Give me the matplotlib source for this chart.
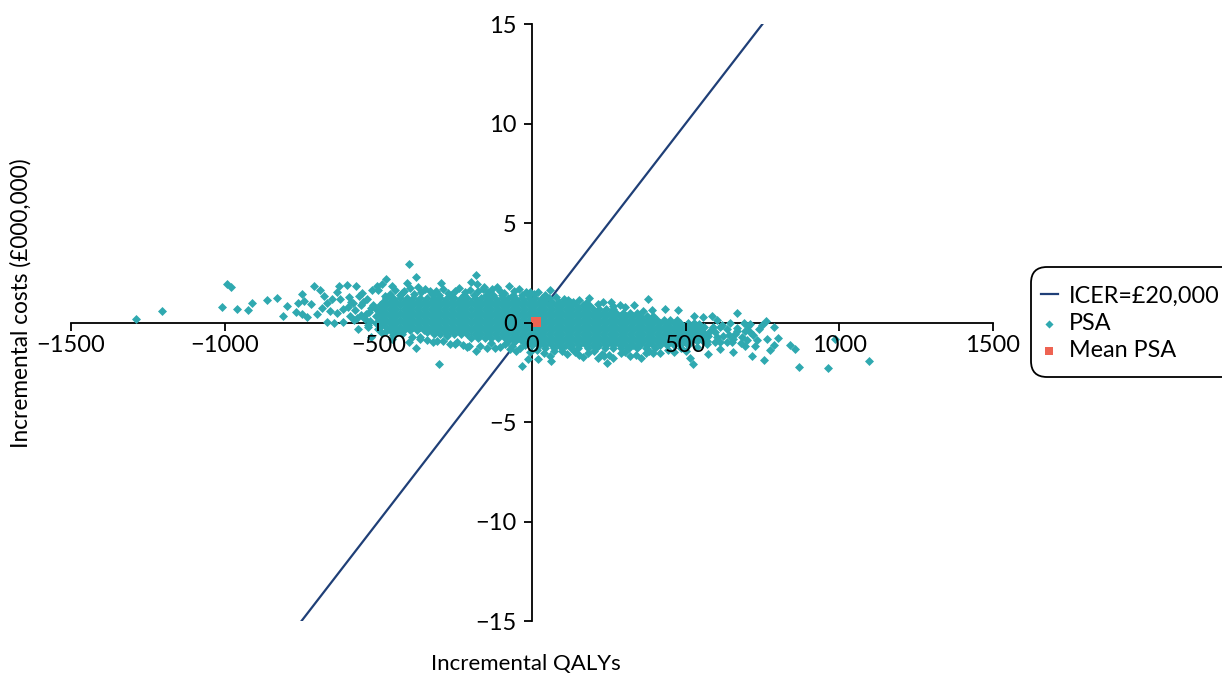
import matplotlib
matplotlib.use('Agg')
import matplotlib.pyplot as plt
from matplotlib.patches import FancyBboxPatch

plt.rcParams['font.family'] = ['Lato', 'Open Sans', 'DejaVu Sans']

# tick labels
x_ticks = [-1500, -1000, -500, 0, 500, 1000, 1500]
y_ticks = [-15, -10, -5, 0, 5, 10, 15]

# ICER threshold line
icer_x = [-750, 750]
icer_y = [-15, 15]

# mean of the PSA runs
mean_x = [12]
mean_y = [0.05]

# PSA runs, scattered ones read point by point
outer_x = [-1290, -1203, -993, -980, -1010, -961, -925, -912, -863, -831, -798, -809, -769, -763, -747, -741, -749,
           -733, -720, -709, -690, -676, -668, -698, -684, -668, -644, -616, -627, -603, -572, -633, -652, -625, -597,
           -581, -657, -635, -614, -592, -554, -538, -565, -532, -500, -525, -475, -456, -440, -399, -377, -364, -304,
           -31, -399, -377, -475, -489, -505, -454, -408, -522, -500, -370, -296, -183, -198, -180, -156, -113, -75,
           -332, -424, -250, -310, -278, -182, -204, -147, -120, -88, -64, -343, -14, 21, 59, 62, 97, 165, 216, 243,
           234, 265, 319, 354, 395, 514, 523, 574, 612, 655, 715, 756, 773, 786, 802, 766, 840, 856, 870, 964, 986,
           1095, 762, 748, 786, 710, 690, 666, 645, 601, 585, 556, 527, 476, 433, 379, 256, 286, 187, 118, 59, -6, 21,
           579, 612, 634, 666, 710, 731, 726, 693, 655, 623, 596, 569, 612, 682, 634, 699, 661, 596, 574, 693,
           -575, -558, -541, -523, -588, -570, -549, -531, -517, -562, -544, -526, -600, -578, -556, -535]
outer_y = [0.17, 0.59, 1.93, 1.76, 0.79, 0.67, 0.64, 0.99, 1.12, 1.22, 0.84, 0.34, 0.55, 0.97, 1.42, 1.09, 0.42,
           0.30, 0.95, 1.84, 1.64, 1.34, 1.0, 0.45, 0.75, 0.05, -0.03, 0.03, 1.84, 1.89, 1.84, 1.54, 1.17, 1.17, 1.26,
           1.0, 0.59, 0.5, 0.67, 0.34, 1.5, 1.17, -0.34, -0.25, -0.34, -0.75, -0.45, -0.84, -0.5, -1.0, -1.29, -0.75, -2.09,
           -2.18, 2.93, 2.31, 2.21, 1.93, 1.84, 1.84, 2.01, 1.64, 1.64, 1.76, 2.01, 2.38, 2.06, 1.93, 1.79, 1.79, 1.84,
           1.59, 1.5, -1.09, -0.92, -0.67, -1.42, -1.17, -1.29, -1.26, -1.09, -1.17, -0.5, -1.84, -1.84, -1.67, -1.93, -1.42, -1.73, -1.79, -2.06,
           -1.67, -1.76, -1.67, -1.76, -1.51, -1.79, -2.09, -1.59, -1.34, -1.46, -1.67, -1.89, -1.39, -1.12, -0.79, -0.84, -1.14, -1.31, -2.23, -2.28, -0.84,
           -1.94, 0.08, -0.13, -0.25, -0.08, 0.0, 0.5, 0.0, 0.12, 0.34, 0.28, 0.34, 0.62, 0.67, 1.17, 1.04, 0.87, 1.22, 1.12, 1.62, 1.54, 1.51,
           -0.42, -0.25, -0.34, -0.42, -0.5, -0.89, -1.17, -1.17, -0.84, -0.67, -1.0, -1.09, -1.0, -0.75, -1.0, -0.89, -0.59, -0.5, -0.67, -0.42,
           0.62, 0.88, 0.45, 0.72, 1.02, 0.24, 1.05, 0.52, 0.86, 1.32, 0.2, 0.1, 0.78, 0.14, 0.36, -0.12]

# fringe above and below the solid part of the cloud
fringe_x = [-478, -462, -447, -431, -416, -398, -384, -361, -349, -327, -311, -289, -274, -251, -236, -219, -201, -176,
            -161, -142, -131, -104, -92, -58, -43, -21, 8, 41, 78, 104, 133, 152, 176, 214, 231, 262, 304, 331, 362, 392,
            -488, -452, -423, -391, -366, -341, -322, -291, -268, -243, -226, -211, -169, -135, -103, -71, -52, -39,
            -8, 16, 38, 71, 113, 141, 153, 182, 202, 228, 251, 288, 302, 338, 371, 382, 416, 441, 463, 486, 502, 537,
            545, 562, 570, 588, 603, 619, 642, 651, 668, 679, 704, 719, 738]
fringe_y = [1.31, 1.44, 1.62, 1.38, 1.56, 1.71, 1.42, 1.52, 1.68, 1.41, 1.57, 1.66, 1.48, 1.6, 1.72, 1.54, 1.63, 1.58,
            1.7, 1.52, 1.66, 1.6, 1.49, 1.57, 1.68, 1.52, 1.41, 1.37, 1.26, 1.18, 1.05, 1.14, 0.98, 0.92, 1.01, 0.83, 0.76, 0.88, 0.58, 0.62,
            -0.52, -0.64, -0.58, -0.72, -0.81, -0.88, -0.97, -0.92, -1.08, -0.98, -1.12, -1.21, -1.18, -1.05, -1.24, -1.32, -1.41, -1.28,
            -1.47, -1.38, -1.52, -1.44, -1.56, -1.49, -1.62, -1.51, -1.43, -1.58, -1.64, -1.53, -1.47, -1.62, -1.55, -1.41, -1.53, -1.38, -1.47, -1.29, -1.42, -1.24,
            -0.08, -0.58, -0.95, -0.22, -0.72, -0.12, -0.64, -0.98, -0.28, -1.02, -0.18, -0.62, -0.32]

# PSA runs in the solid part of the cloud, estimated band by band
band_y = [1.40, 1.22, 1.04, 0.86, 0.68, 0.50, 0.32, 0.14, -0.04, -0.22, -0.40, -0.58, -0.76, -0.94, -1.12, -1.30]
band_x = [
    [-301, -262, -221, -188, -150, -128, -96, -61, -33, -9],
    [-474, -451, -430, -407, -386, -363, -342, -319, -298, -275, -254, -231, -210, -187, -166, -143, -122, -99, -78, -55, -34, -11, 10, 33, 54],
    [-485, -462, -441, -418, -397, -374, -353, -330, -309, -286, -265, -242, -221, -198, -177, -154, -133, -110, -89, -66, -45, -22, -1, 22, 43, 66, 87, 110, 124],
    [-495, -474, -451, -430, -407, -386, -363, -342, -319, -298, -275, -254, -231, -210, -187, -166, -143, -122, -99, -78, -55, -34, -11, 10, 33, 54, 77, 98, 121, 142, 165, 186],
    [-506, -485, -462, -441, -418, -397, -374, -353, -330, -309, -286, -265, -242, -221, -198, -177, -154, -133, -110, -89, -66, -45, -22, -1, 22, 43, 66, 87, 110, 131, 154, 175, 198, 219, 242, 263],
    [-495, -474, -451, -430, -407, -386, -363, -342, -319, -298, -275, -254, -231, -210, -187, -166, -143, -122, -99, -78, -55, -34, -11, 10, 33, 54, 77, 98, 121, 142, 165, 186, 209, 230, 253, 274, 297, 318, 341],
    [-506, -485, -462, -441, -418, -397, -374, -353, -330, -309, -286, -265, -242, -221, -198, -177, -154, -133, -110, -89, -66, -45, -22, -1, 22, 43, 66, 87, 110, 131, 154, 175, 198, 219, 242, 263, 286, 307, 330, 351, 374, 395],
    [-495, -474, -451, -430, -407, -386, -363, -342, -319, -298, -275, -254, -231, -210, -187, -166, -143, -122, -99, -78, -55, -34, -11, 10, 33, 54, 77, 98, 121, 142, 165, 186, 209, 230, 253, 274, 297, 318, 341, 362, 385, 406, 429, 450, 473],
    [-506, -485, -462, -441, -418, -397, -374, -353, -330, -309, -286, -265, -242, -221, -198, -177, -154, -133, -110, -89, -66, -45, -22, -1, 22, 43, 66, 87, 110, 131, 154, 175, 198, 219, 242, 263, 286, 307, 330, 351, 374, 395, 418, 439, 462, 483, 506, 527],
    [-495, -474, -451, -430, -407, -386, -363, -342, -319, -298, -275, -254, -231, -210, -187, -166, -143, -122, -99, -78, -55, -34, -11, 10, 33, 54, 77, 98, 121, 142, 165, 186, 209, 230, 253, 274, 297, 318, 341, 362, 385, 406, 429, 450, 473, 494, 517, 538, 561],
    [-462, -441, -418, -397, -374, -353, -330, -309, -286, -265, -242, -221, -198, -177, -154, -133, -110, -89, -66, -45, -22, -1, 22, 43, 66, 87, 110, 131, 154, 175, 198, 219, 242, 263, 286, 307, 330, 351, 374, 395, 418, 439, 462, 483, 506, 527, 550],
    [-319, -298, -275, -254, -231, -210, -187, -166, -143, -122, -99, -78, -55, -34, -11, 10, 33, 54, 77, 98, 121, 142, 165, 186, 209, 230, 253, 274, 297, 318, 341, 362, 385, 406, 429, 450, 473, 494, 517, 538, 561],
    [-198, -177, -154, -133, -110, -89, -66, -45, -22, -1, 22, 43, 66, 87, 110, 131, 154, 175, 198, 219, 242, 263, 286, 307, 330, 351, 374, 395, 418, 439, 462, 483, 506, 527, 550],
    [-78, -55, -34, -11, 10, 33, 54, 77, 98, 121, 142, 165, 186, 209, 230, 253, 274, 297, 318, 341, 362, 385, 406, 429, 450, 473, 494, 517, 538, 555],
    [-22, -1, 22, 43, 66, 87, 110, 131, 154, 175, 198, 219, 242, 263, 286, 307, 330, 351, 374, 395, 418, 439, 462, 483, 506],
    [42, 71, 96, 128, 151, 183, 207, 238, 262, 291, 317, 343, 372, 399],
]

psa_x = list(outer_x) + list(fringe_x)
psa_y = list(outer_y) + list(fringe_y)
for y, xs in zip(band_y, band_x):
    psa_x += xs
    psa_y += [y] * len(xs)

fig = plt.figure(figsize=(12.22, 6.73), dpi=100)
ax = fig.add_axes([71 / 1222, 1 - 621 / 673, 922 / 1222, 597 / 673])

ax.plot(icer_x, icer_y, color='#1f3f77', lw=1.6, zorder=1.5, label='ICER=£20,000')
ax.scatter(psa_x, psa_y, marker='D', s=21, color='#2fa9b0', linewidths=0, zorder=2, label='PSA')
ax.scatter(mean_x, mean_y, marker='s', s=42, color='#ee6352', linewidths=0, zorder=2.2, label='Mean PSA')

ax.set_xlim(-1500, 1500)
ax.set_ylim(-15, 15)

# axes cross at zero, points sit on top of the axis lines but under the labels
ax.set_axisbelow(False)
for side in ['top', 'right']:
    ax.spines[side].set_visible(False)
for side in ['left', 'bottom']:
    ax.spines[side].set_position('zero')
    ax.spines[side].set_linewidth(1.3)
    ax.spines[side].set_zorder(1)

ax.set_xticks(x_ticks)
ax.set_yticks(y_ticks)
ax.set_xticklabels([str(v).replace('-', '\u2212') for v in x_ticks])
ax.set_yticklabels([str(v).replace('-', '\u2212') for v in y_ticks])
ax.tick_params(axis='both', labelsize=17, length=6, width=1.3, pad=5)
ax.tick_params(axis='x', pad=3)

ax.set_xlabel('Incremental QALYs', fontsize=16)
ax.xaxis.set_label_coords((526 - 71) / 922, -(664 - 621) / 597)
ax.xaxis.label.set_va('center')
fig.text(21 / 1222, 1 - 303 / 673, 'Incremental costs (£000,000)', fontsize=16.3, rotation=90, ha='center', va='center')

# legend box runs off the right edge of the figure, so it is drawn on its own
box = FancyBboxPatch((1031 + 16, 673 - 377 + 16), 210 - 32, 110 - 32, boxstyle='round,pad=16,rounding_size=16',
                     fc='white', ec='black', lw=1.3, transform=None, zorder=5)
fig.add_artist(box)
leg = fig.legend(loc='upper left', bbox_to_anchor=(1041 / 1222, 1 - 285.5 / 673), borderaxespad=0, borderpad=0,
                 fontsize=16.8, frameon=False, labelspacing=0.27, handlelength=0.72, handletextpad=0.47,
                 scatterpoints=1, markerscale=0.9)
leg.set_zorder(6)

fig.savefig('out.png', dpi=100)
